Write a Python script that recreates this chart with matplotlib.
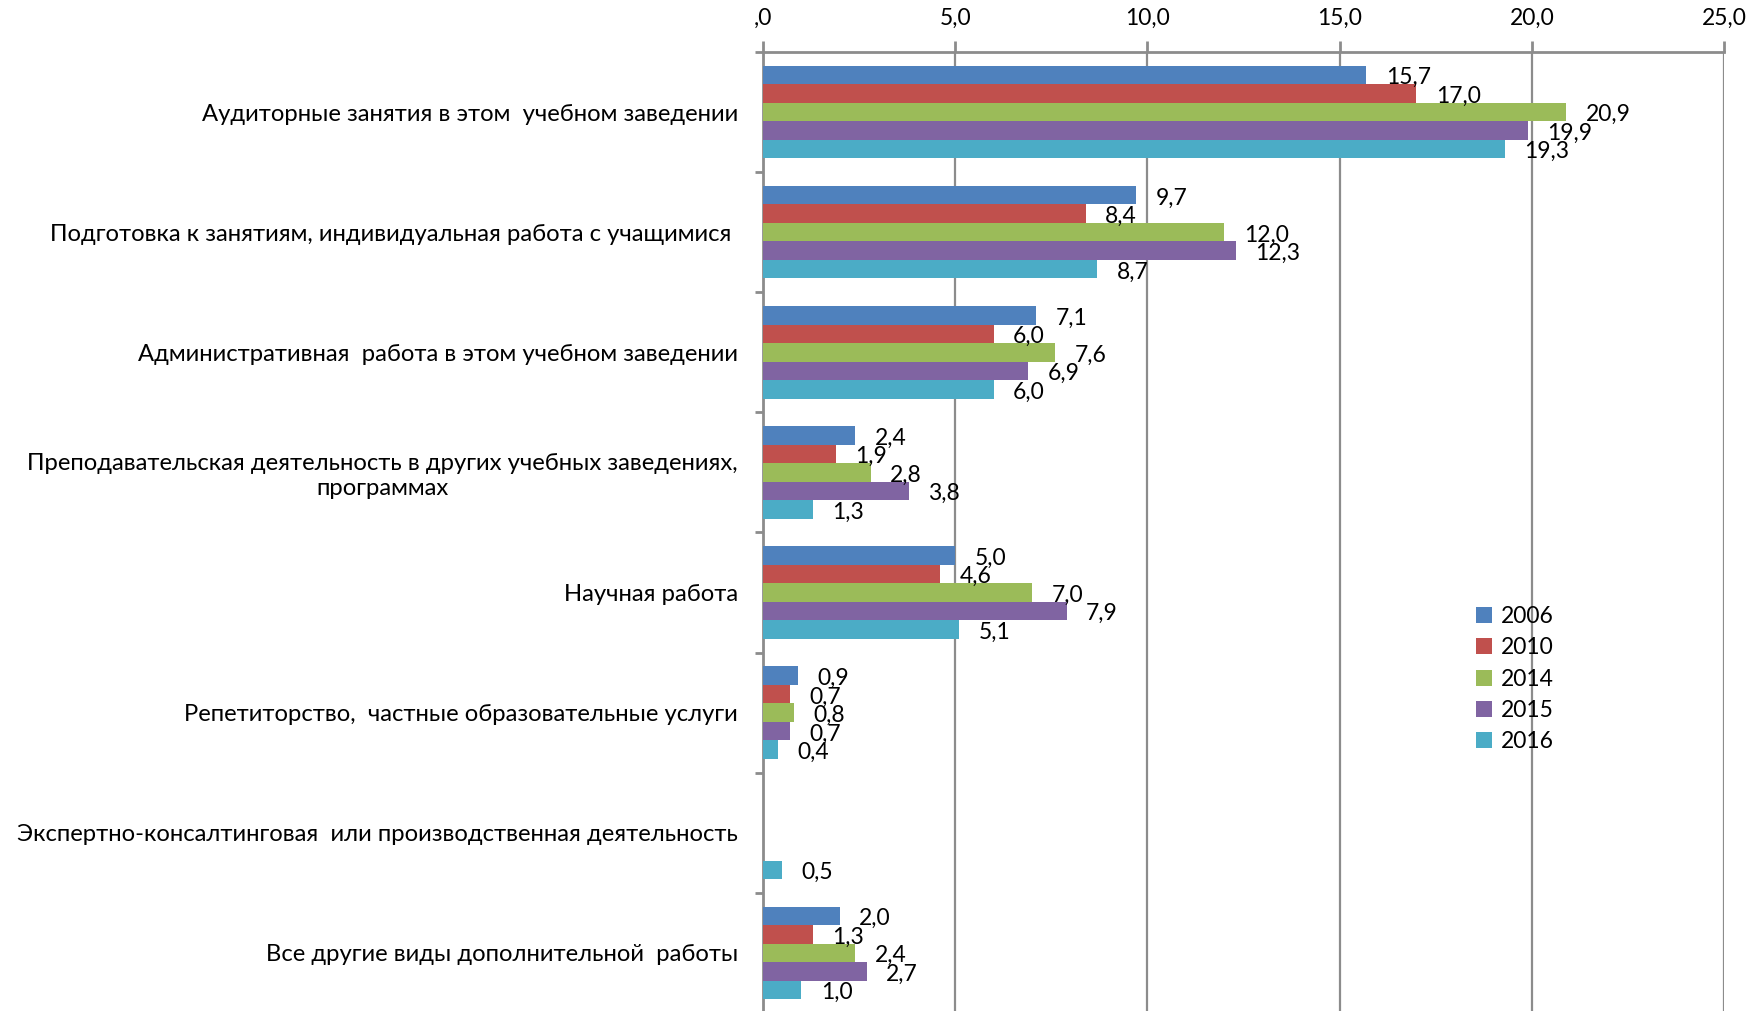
import numpy as np
import matplotlib.pyplot as plt
from matplotlib.ticker import FuncFormatter, FixedLocator

plt.rcParams['font.family'] = ['Lato', 'DejaVu Sans']

categories = [
    "Аудиторные занятия в этом  учебном заведении",
    "Подготовка к занятиям, индивидуальная работа с учащимися ",
    "Административная  работа в этом учебном заведении",
    "Преподавательская деятельность в других учебных заведениях,\nпрограммах",
    "Научная работа",
    "Репетиторство,  частные образовательные услуги",
    "Экспертно-консалтинговая  или производственная деятельность",
    "Все другие виды дополнительной  работы",
]
years = ["2006", "2010", "2014", "2015", "2016"]
v2006 = [15.7, 9.7, 7.1, 2.4, 5.0, 0.9, np.nan, 2.0]
v2010 = [17.0, 8.4, 6.0, 1.9, 4.6, 0.7, np.nan, 1.3]
v2014 = [20.9, 12.0, 7.6, 2.8, 7.0, 0.8, np.nan, 2.4]
v2015 = [19.9, 12.3, 6.9, 3.8, 7.9, 0.7, np.nan, 2.7]
v2016 = [19.3, 8.7, 6.0, 1.3, 5.1, 0.4, 0.5, 1.0]
series = [v2006, v2010, v2014, v2015, v2016]
colors = ['#4F81BD', '#C0504D', '#9BBB59', '#8064A2', '#4BACC6']

fig = plt.figure(figsize=(17.52, 10.11), dpi=100)
ax = fig.add_axes([0.4355, -0.002, 0.5485, 0.9506])

n = len(categories)
y = np.arange(n)
h = 0.154
for i, (vals, col, yr) in enumerate(zip(series, colors, years)):
    pos = y + (i - 2) * h
    ax.barh(pos, vals, height=h, color=col, label=yr, zorder=3)
    for p, v in zip(pos, vals):
        if np.isnan(v):
            continue
        ax.annotate(f"{v:.1f}".replace('.', ','), (v, p), xytext=(14, -2),
                    textcoords='offset points', ha='left', va='center',
                    fontsize=16.5, zorder=4)

ax.set_xlim(0, 25)
ax.set_ylim(n - 0.5, -0.5)
ax.xaxis.tick_top()
ax.set_xticks(np.arange(0, 26, 5))
ax.xaxis.set_major_formatter(FuncFormatter(
    lambda v, p: ",0" if v == 0 else f"{v:.1f}".replace('.', ',')))
ax.tick_params(axis='x', length=8, width=2, color='#8c8c8c', labelsize=16.5, pad=9)
ax.grid(axis='x', color='#8c8c8c', linewidth=1.6, zorder=0)

ax.set_yticks(y)
ax.set_yticklabels(categories, fontsize=17.2)
for lab in ax.get_yticklabels():
    lab.set_multialignment('center')
ax.tick_params(axis='y', length=0, pad=18)
ax.yaxis.set_minor_locator(FixedLocator(np.arange(n + 1) - 0.5))
ax.tick_params(axis='y', which='minor', length=6, width=2, color='#8c8c8c')

for s in ['right', 'bottom']:
    ax.spines[s].set_visible(False)
for s in ['top', 'left']:
    ax.spines[s].set_color('#8c8c8c')
    ax.spines[s].set_linewidth(2)

ax.legend(loc='upper left', bbox_to_anchor=(0.72, 0.445), frameon=False,
          fontsize=16.5, handlelength=0.7, handleheight=0.7, handletextpad=0.4,
          labelspacing=0.45)

fig.savefig('out.png', dpi=100)
